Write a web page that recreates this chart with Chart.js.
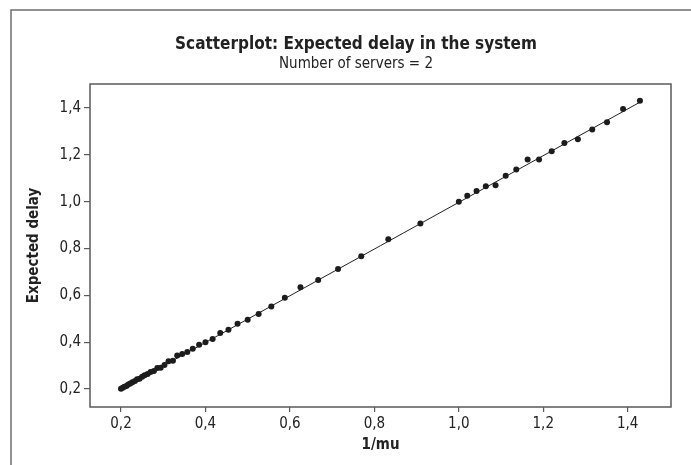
<!DOCTYPE html>
<html>
<head>
<meta charset="utf-8">
<script src="https://cdn.jsdelivr.net/npm/chart.js@4"></script>
<style>
  html, body { margin: 0; padding: 0; background: #ffffff; }
  #wrap { width: 691px; height: 465px; position: relative; }
</style>
</head>
<body>
<div id="wrap"><canvas id="chart" width="691" height="465"></canvas></div>
<script>
// 1/mu for each simulated service rate
const invMu = [
  0.200, 0.204, 0.208, 0.213, 0.217, 0.222, 0.227, 0.233, 0.238, 0.244,
  0.250, 0.256, 0.263, 0.270, 0.278, 0.286, 0.294, 0.303, 0.3125, 0.323,
  0.333, 0.345, 0.357, 0.370, 0.385, 0.400, 0.417, 0.435, 0.4545, 0.476,
  0.500, 0.526, 0.556, 0.588, 0.625, 0.667, 0.714, 0.769, 0.833, 0.909,
  1.000, 1.020, 1.042, 1.064, 1.087, 1.111, 1.136, 1.163, 1.190, 1.220,
  1.250, 1.282, 1.316, 1.351, 1.389, 1.429
];
// Expected delay in the system measured for each run
const expectedDelay = [
  0.201, 0.205, 0.209, 0.213, 0.219, 0.223, 0.229, 0.234, 0.241, 0.244,
  0.252, 0.259, 0.264, 0.273, 0.277, 0.290, 0.291, 0.302, 0.318, 0.321,
  0.343, 0.349, 0.358, 0.372, 0.389, 0.400, 0.413, 0.439, 0.453, 0.479,
  0.496, 0.520, 0.552, 0.590, 0.635, 0.665, 0.712, 0.767, 0.840, 0.907,
  1.000, 1.025, 1.046, 1.066, 1.070, 1.111, 1.137, 1.180, 1.180, 1.215,
  1.251, 1.267, 1.308, 1.339, 1.396, 1.431
];
// Fitted line end points
const fitX = [0.200, 1.429];
const fitY = [0.199, 1.425];
// Axis tick values
const xTicks = [0.2, 0.4, 0.6, 0.8, 1.0, 1.2, 1.4];
const yTicks = [0.2, 0.4, 0.6, 0.8, 1.0, 1.2, 1.4];

const titleText = 'Scatterplot: Expected delay in the system';
const subtitleText = 'Number of servers = 2';
const xTitle = '1/mu';
const yTitle = 'Expected delay';

const FONT = '"DejaVu Sans Condensed", "DejaVu Sans", sans-serif';
const AXIS_COLOR = '#5a5a5a';
const TEXT_COLOR = '#222222';
const TITLE_CENTER_X = 356;

const points = invMu.map((x, i) => ({ x: x, y: expectedDelay[i] }));
const fitLine = fitX.map((x, i) => ({ x: x, y: fitY[i] }));

const fmt = v => Number(v).toFixed(1).replace('.', ',');

// Frame, plot box and text drawn around the chart area
const decor = {
  id: 'decor',
  beforeDraw(chart) {
    const ctx = chart.ctx;
    ctx.save();
    ctx.fillStyle = '#ffffff';
    ctx.fillRect(0, 0, chart.width, chart.height);
    // outer frame (left and top edges)
    ctx.strokeStyle = '#6e6e6e';
    ctx.lineWidth = 1.5;
    ctx.beginPath();
    ctx.moveTo(11, chart.height);
    ctx.lineTo(11, 10);
    ctx.lineTo(chart.width, 10);
    ctx.stroke();
    ctx.restore();
  },
  afterDraw(chart) {
    const ctx = chart.ctx;
    const a = chart.chartArea;
    const cx = (a.left + a.right) / 2;
    const cy = (a.top + a.bottom) / 2;
    ctx.save();
    // plot box
    ctx.strokeStyle = AXIS_COLOR;
    ctx.lineWidth = 1.5;
    ctx.strokeRect(a.left, a.top, a.right - a.left, a.bottom - a.top);
    // titles
    ctx.fillStyle = TEXT_COLOR;
    ctx.textAlign = 'center';
    ctx.textBaseline = 'alphabetic';
    ctx.font = 'bold 17px ' + FONT;
    ctx.fillText(titleText, TITLE_CENTER_X, 49);
    ctx.font = '15px ' + FONT;
    ctx.fillText(subtitleText, TITLE_CENTER_X, 68);
    // axis titles
    ctx.font = 'bold 15px ' + FONT;
    ctx.fillText(xTitle, cx, 449);
    ctx.translate(38, cy);
    ctx.rotate(-Math.PI / 2);
    ctx.fillText(yTitle, 0, 0);
    ctx.restore();
  }
};

new Chart(document.getElementById('chart'), {
  type: 'scatter',
  data: {
    datasets: [
      {
        label: 'Expected delay',
        data: points,
        pointRadius: 3,
        pointHoverRadius: 3,
        pointBackgroundColor: '#1c1c1c',
        pointBorderWidth: 0,
        showLine: false,
        order: 1
      },
      {
        label: 'Fit',
        data: fitLine,
        showLine: true,
        pointRadius: 0,
        borderColor: '#222222',
        borderWidth: 1,
        fill: false,
        order: 2
      }
    ]
  },
  options: {
    responsive: false,
    animation: false,
    devicePixelRatio: 1,
    layout: { padding: { left: 0, top: 84, right: 20, bottom: 0 } },
    plugins: {
      legend: { display: false },
      title: { display: false },
      tooltip: { enabled: false }
    },
    scales: {
      x: {
        type: 'linear',
        min: 0.1266,
        max: 1.5025,
        afterBuildTicks: s => { s.ticks = xTicks.map(v => ({ value: v })); },
        afterFit: s => { s.height = 58; },
        border: { display: false },
        grid: { drawOnChartArea: false, drawTicks: true, tickLength: 5, color: AXIS_COLOR, lineWidth: 1.2 },
        ticks: {
          callback: v => fmt(v),
          color: TEXT_COLOR,
          font: { family: FONT, size: 15 },
          padding: 3,
          maxRotation: 0,
          autoSkip: false
        }
      },
      y: {
        type: 'linear',
        min: 0.123,
        max: 1.5026,
        afterBuildTicks: s => { s.ticks = yTicks.map(v => ({ value: v })); },
        afterFit: s => { s.width = 90; },
        border: { display: false },
        grid: { drawOnChartArea: false, drawTicks: true, tickLength: 6, color: AXIS_COLOR, lineWidth: 1.2 },
        ticks: {
          callback: v => fmt(v),
          color: TEXT_COLOR,
          font: { family: FONT, size: 15 },
          padding: 3,
          autoSkip: false
        }
      }
    }
  },
  plugins: [decor]
});
</script>
</body>
</html>
